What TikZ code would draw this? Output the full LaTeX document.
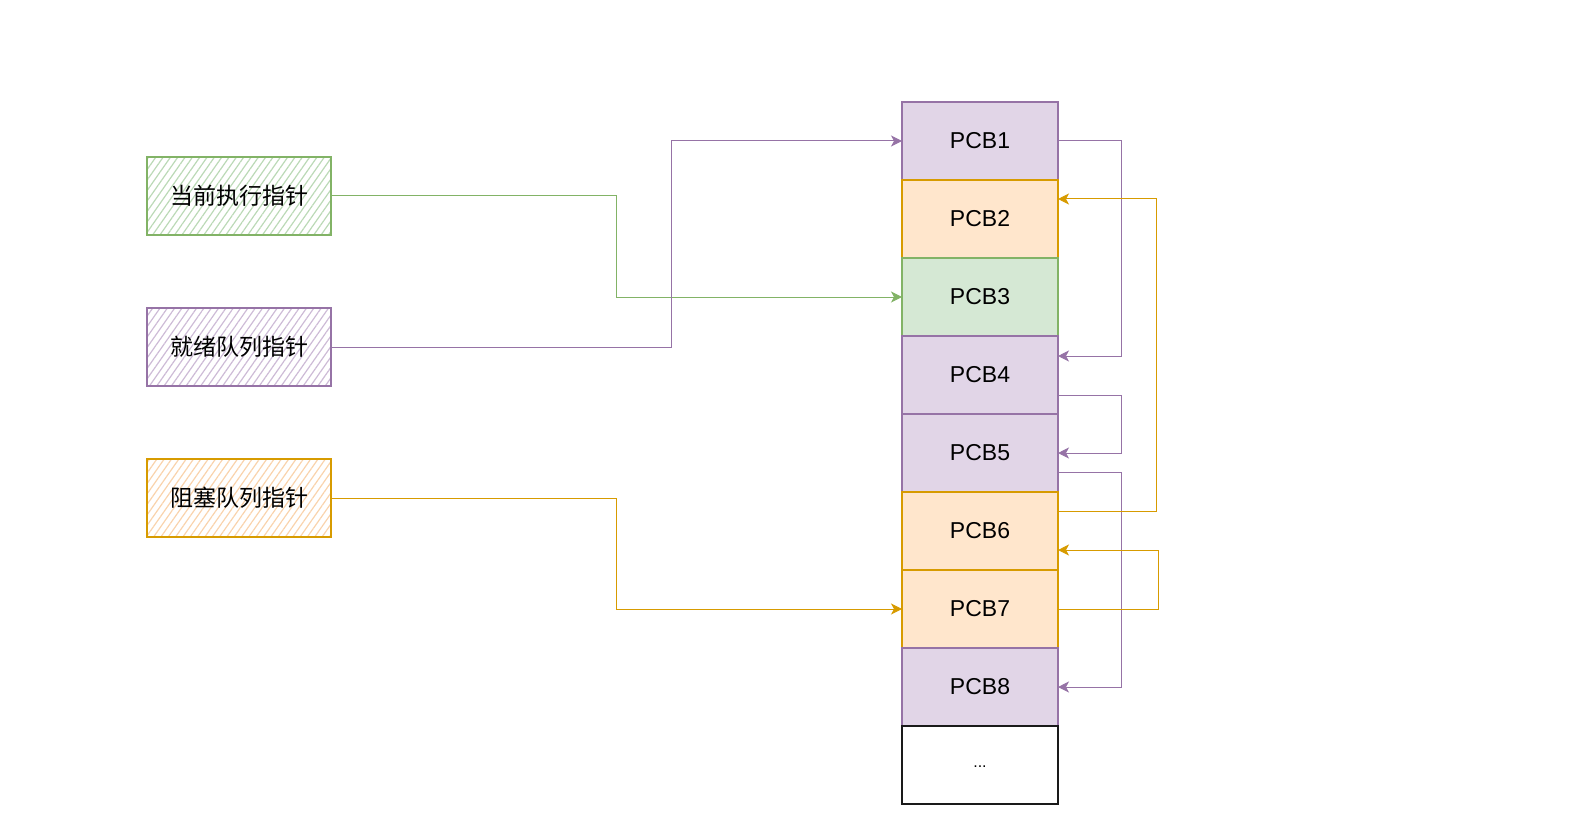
\documentclass[tikz,border=0pt]{standalone}
\usepackage{fontspec}
\setmainfont{Liberation Sans}
\newfontfamily\cjk{Noto Sans CJK SC}
\usepackage{tikz}
\usetikzlibrary{arrows.meta,positioning,patterns.meta}
\definecolor{Ink}{HTML}{000000}
\definecolor{Edge}{HTML}{1A1A1A}
\definecolor{Purple}{HTML}{9673A6}
\definecolor{PurpleSoft}{HTML}{E1D5E7}
\definecolor{PurpleHatch}{HTML}{CDBBD6}
\definecolor{Orange}{HTML}{D79B00}
\definecolor{OrangeSoft}{HTML}{FFE6CC}
\definecolor{OrangeHatch}{HTML}{F9D3AC}
\definecolor{Green}{HTML}{82B366}
\definecolor{GreenSoft}{HTML}{D5E8D4}
\definecolor{GreenHatch}{HTML}{BBD9B6}
\tikzset{
  pcb/.style={draw,line width=0.6pt,minimum width=78pt,minimum height=39pt,outer sep=0pt,text=Ink,font=\fontsize{11.5}{13}\selectfont},
  pcbpurple/.style={pcb,draw=Purple,fill=PurpleSoft},
  pcborange/.style={pcb,draw=Orange,fill=OrangeSoft},
  pcbgreen/.style={pcb,draw=Green,fill=GreenSoft},
  pcbmore/.style={pcb,draw=Edge,fill=white,font=\fontsize{8}{9}\selectfont},
  ptr/.style={draw,line width=0.6pt,minimum width=92pt,minimum height=39pt,outer sep=0pt,text=Ink,font=\cjk\fontsize{11.5}{13}\selectfont},
  ptrgreen/.style={ptr,draw=Green,pattern={Lines[angle=55,distance=3pt,line width=0.6pt]},pattern color=GreenHatch},
  ptrpurple/.style={ptr,draw=Purple,pattern={Lines[angle=55,distance=3pt,line width=0.6pt]},pattern color=PurpleHatch},
  ptrorange/.style={ptr,draw=Orange,pattern={Lines[angle=55,distance=3pt,line width=0.6pt]},pattern color=OrangeHatch},
  link/.style={-{Stealth[length=5.5pt,width=5.5pt,inset=1.5pt]},line width=0.5pt},
  linkpurple/.style={link,draw=Purple},
  linkorange/.style={link,draw=Orange},
  linkgreen/.style={link,draw=Green}
}
\begin{document}
\begin{tikzpicture}[x=0.5pt,y=-0.5pt,node distance=36.5pt]
\useasboundingbox (0,0) rectangle (1586,840);
\node[pcbpurple] (pcb1) at (980,141) {PCB1};
\node[pcborange,below=0pt of pcb1] (pcb2) {PCB2};
\node[pcbgreen,below=0pt of pcb2] (pcb3) {PCB3};
\node[pcbpurple,below=0pt of pcb3] (pcb4) {PCB4};
\node[pcbpurple,below=0pt of pcb4] (pcb5) {PCB5};
\node[pcborange,below=0pt of pcb5] (pcb6) {PCB6};
\node[pcborange,below=0pt of pcb6] (pcb7) {PCB7};
\node[pcbpurple,below=0pt of pcb7] (pcb8) {PCB8};
\node[pcbmore,below=0pt of pcb8] (more) {\raisebox{-2pt}{...}};
\node[ptrgreen] (running) at (239,196) {当前执行指针};
\node[ptrpurple,below=of running] (ready) {就绪队列指针};
\node[ptrorange,below=of ready] (blocked) {阻塞队列指针};
\draw[linkgreen] (running.east) -- ++(285,0) |- (pcb3.west);
\draw[linkpurple] (ready.east) -- ++(340,0) |- (pcb1.west);
\draw[linkorange] (blocked.east) -- ++(285,0) |- (pcb7.west);
\draw[linkpurple] (pcb1.east) -- ++(63,0) |- ([yshift=9.5pt]pcb4.east);
\draw[linkpurple] ([yshift=-10pt]pcb4.east) -- ++(63,0) |- (pcb5.east);
\draw[linkpurple] ([yshift=-9.5pt]pcb5.east) -- ++(63,0) |- (pcb8.east);
\draw[linkorange] ([yshift=10pt]pcb6.east) -- ++(98,0) |- ([yshift=10pt]pcb2.east);
\draw[linkorange] (pcb7.east) -- ++(100,0) |- ([yshift=-9.5pt]pcb6.east);
\end{tikzpicture}
\end{document}
